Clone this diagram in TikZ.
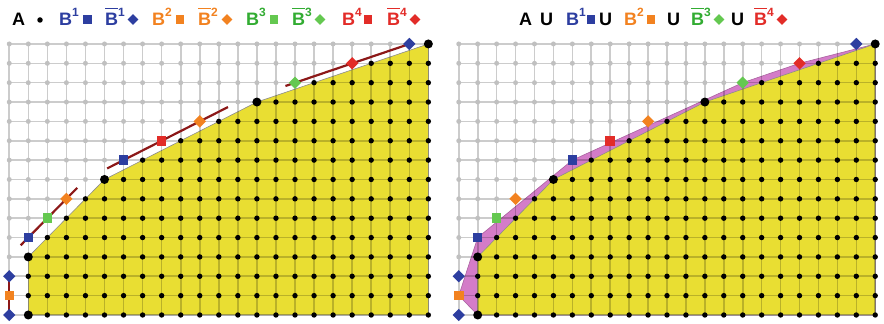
\documentclass[tikz,border=0pt]{standalone}
\usepackage{fontspec}
\setmainfont{Liberation Sans}
\usetikzlibrary{shapes.geometric}

\definecolor{setblue}{RGB}{45,62,160}
\definecolor{setorange}{RGB}{242,130,32}
\definecolor{setgreen}{RGB}{50,172,50}
\definecolor{markgreen}{RGB}{100,200,80}
\definecolor{setred}{RGB}{226,44,40}
\definecolor{hullyellow}{RGB}{233,222,50}
\definecolor{hullpink}{RGB}{212,124,200}
\definecolor{linered}{RGB}{140,24,24}
\definecolor{dotgray}{RGB}{192,192,192}

\newcommand{\sups}[1]{\raisebox{9.5pt}{\fontsize{12}{12}\selectfont #1}}
\newcommand{\barB}{\setbox0\hbox{B}\rlap{\rule[16.5pt]{\wd0}{1.9pt}}\box0}

% top of the set A in every column
\newcommand{\colheights}{0/3,1/4,2/5,3/6,4/7,5/7,6/8,7/8,8/9,9/9,10/10,11/10,12/11,13/11,14/11,15/12,16/12,17/12,18/13,19/13,20/13,21/14}

\newcommand{\latticegrid}{%
	\foreach \x in {-1,...,21} \draw[gridline] (\x,0) -- (\x,14);
	\foreach \y in {0,...,14} \draw[gridline] (-1,\y) -- (21,\y);
}

\newcommand{\latticedots}[1]{%
	\foreach \y in {0,...,14} \fill[dotgray] (-1,\y) circle (2.5pt);
	\foreach \x/\h in \colheights {
		\foreach \y in {0,...,\h} \fill (\x,\y) circle (2.7pt);
		\ifnum\h<14
			\pgfmathtruncatemacro\hnext{\h+1}
			\foreach \y in {\hnext,...,14} \fill[dotgray] (\x,\y) circle (2.5pt);
		\fi
	}
	\foreach \p in {(0,0),(0,3),(4,7),(12,11),(21,14)} \fill \p circle (4.5pt);
	% the B sets
	\node[sq=setblue] (#1-b1a) at (0,4) {};
	\node[sq=setblue] (#1-b1b) at (5,8) {};
	\node[dm=setblue] (#1-bb1a) at (-1,0) {};
	\node[dm=setblue] (#1-bb1b) at (-1,2) {};
	\node[dm=setblue] (#1-bb1c) at (20,14) {};
	\node[sq=setorange] (#1-b2a) at (-1,1) {};
	\node[dm=setorange] (#1-bb2a) at (2,6) {};
	\node[dm=setorange] (#1-bb2b) at (9,10) {};
	\node[sq=markgreen] (#1-b3a) at (1,5) {};
	\node[dm=markgreen] (#1-bb3a) at (14,12) {};
	\node[sq=setred] (#1-b4a) at (7,9) {};
	\node[dm=setred] (#1-bb4a) at (17,13) {};
}

\begin{document}
\begin{tikzpicture}[
	x=1pt, y=1pt,
	gridline/.style={black, draw opacity=0.2, line width=1.6pt},
	hullline/.style={linered, line width=2.2pt},
	sq/.style={rectangle, fill=#1, inner sep=0pt, minimum size=9.5pt},
	dm/.style={diamond, fill=#1, inner sep=0pt, minimum size=12.5pt},
	legsq/.style={rectangle, fill=#1, inner sep=0pt, minimum size=8.5pt},
	legdm/.style={diamond, fill=#1, inner sep=0pt, minimum size=11pt},
	legdot/.style={circle, fill=black, inner sep=0pt, minimum size=5.5pt},
	lbl/.style={anchor=base west, inner sep=0pt, font=\fontsize{18}{18}\selectfont\bfseries}
	]
	\useasboundingbox (0,0) rectangle (884,324);
	
	% left: A and the B sets
	\begin{scope}[shift={(28.3pt,9pt)}, x=19.05pt, y=19.36pt]
		\fill[hullyellow, draw=black!45, line width=0.6pt]
		(0,0) -- (0,3) -- (4,7) -- (12,11) -- (21,14) -- (21,0) -- cycle;
		\latticegrid
		\coordinate (l-s1) at (-1,0);
		\coordinate (l-e1) at (-1,2);
		\coordinate (l-s2) at (-0.4,3.6);
		\coordinate (l-e2) at (2.57,6.57);
		\coordinate (l-s3) at (4.14,7.57);
		\coordinate (l-e3) at (10.48,10.74);
		\coordinate (l-s4) at (13.5,11.83);
		\coordinate (l-e4) at (20.1,14.03);
		\draw[hullline] (l-s1) -- (l-e1);
		\draw[hullline] (l-s2) -- (l-e2);
		\draw[hullline] (l-s3) -- (l-e3);
		\draw[hullline] (l-s4) -- (l-e4);
		\latticedots{l}
	\end{scope}
	
	% right: hull of the union
	\begin{scope}[shift={(477.7pt,9pt)}, x=18.93pt, y=19.36pt]
		\fill[hullpink, draw=hullpink!80!black, line width=0.6pt]
		(0,0) -- (-1,1) -- (0,4) -- (5,8) -- (14,12) -- (17,13) -- (21,14) -- (21,0) -- cycle;
		\fill[hullyellow, draw=black!45, line width=0.6pt]
		(0,0) -- (0,3) -- (4,7) -- (12,11) -- (21,14) -- (21,0) -- cycle;
		\latticegrid
		\latticedots{r}
	\end{scope}
	
	% legend left
	\node[lbl] (legA) at (12,298) {A};
	\node[legdot] (legAm) at (40,304) {};
	\node[lbl, text=setblue] (legB1) at (59,298) {B\sups{1}};
	\node[legsq=setblue] (legB1m) at (87.5,304.5) {};
	\node[lbl, text=setblue] (legBB1) at (105,298) {\barB\sups{1}};
	\node[legdm=setblue] (legBB1m) at (133,304.5) {};
	\node[lbl, text=setorange] (legB2) at (152,298) {B\sups{2}};
	\node[legsq=setorange] (legB2m) at (180,304.5) {};
	\node[lbl, text=setorange] (legBB2) at (198,298) {\barB\sups{2}};
	\node[legdm=setorange] (legBB2m) at (227,304.5) {};
	\node[lbl, text=setgreen] (legB3) at (246,298) {B\sups{3}};
	\node[legsq=markgreen] (legB3m) at (274,304.5) {};
	\node[lbl, text=setgreen] (legBB3) at (292,298) {\barB\sups{3}};
	\node[legdm=markgreen] (legBB3m) at (320,304.5) {};
	\node[lbl, text=setred] (legB4) at (342,298) {B\sups{4}};
	\node[legsq=setred] (legB4m) at (368,304.5) {};
	\node[lbl, text=setred] (legBB4) at (387,298) {\barB\sups{4}};
	\node[legdm=setred] (legBB4m) at (415,304.5) {};
	
	% legend right
	\node[lbl] (uniA) at (519,298) {A};
	\node[lbl] (uniU1) at (540,298) {U};
	\node[lbl, text=setblue] (uniB1) at (566,298) {B\sups{1}};
	\node[legsq=setblue] (uniB1m) at (591,304.5) {};
	\node[lbl] (uniU2) at (599,298) {U};
	\node[lbl, text=setorange] (uniB2) at (624,298) {B\sups{2}};
	\node[legsq=setorange] (uniB2m) at (651,304.5) {};
	\node[lbl] (uniU3) at (667,298) {U};
	\node[lbl, text=setgreen] (uniBB3) at (691,298) {\barB\sups{3}};
	\node[legdm=markgreen] (uniBB3m) at (719,304.5) {};
	\node[lbl] (uniU4) at (731,298) {U};
	\node[lbl, text=setred] (uniBB4) at (754,298) {\barB\sups{4}};
	\node[legdm=setred] (uniBB4m) at (782,304.5) {};
\end{tikzpicture}
\end{document}
